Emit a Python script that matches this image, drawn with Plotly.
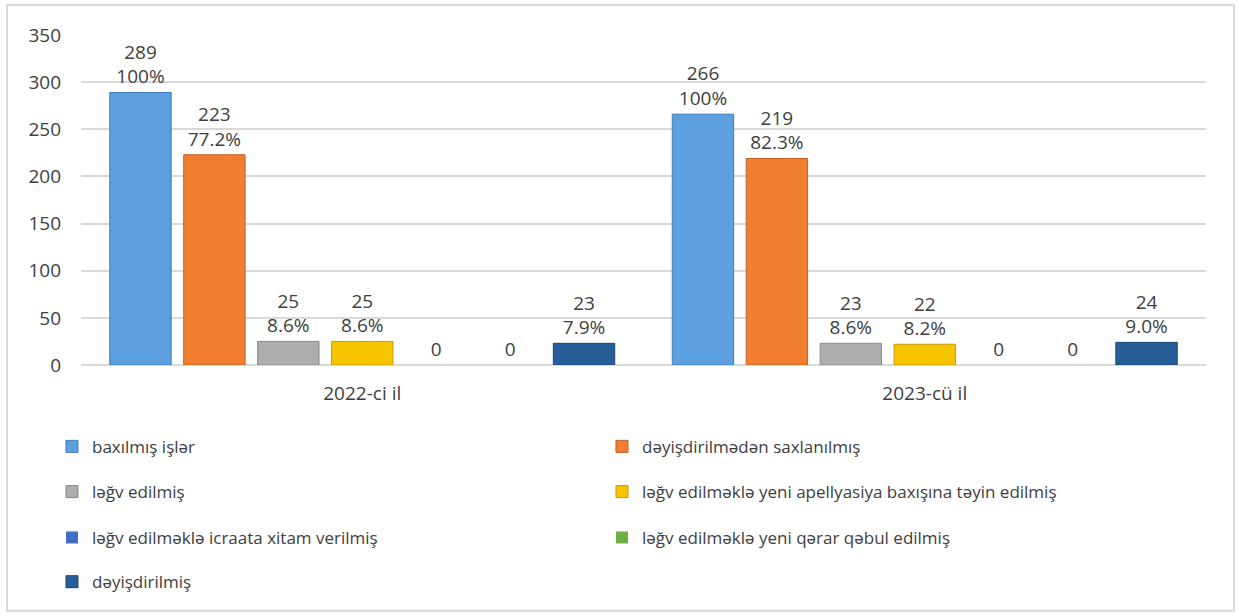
import plotly.graph_objects as go

categories = ["2022-ci il", "2023-cü il"]

series_names = [
    "baxılmış işlər",
    "dəyişdirilmədən saxlanılmış",
    "ləğv edilmiş",
    "ləğv edilməklə yeni apellyasiya baxışına təyin edilmiş",
    "ləğv edilməklə icraata xitam verilmiş",
    "ləğv edilməklə yeni qərar qəbul edilmiş",
    "dəyişdirilmiş",
]

baxilmis = [289, 266]
deyisdirilmeden = [223, 219]
legv = [25, 23]
legv_apellyasiya = [25, 22]
legv_xitam = [0, 0]
legv_yeni_qerar = [0, 0]
deyisdirilmis = [23, 24]

pct_baxilmis = ["100%", "100%"]
pct_deyisdirilmeden = ["77.2%", "82.3%"]
pct_legv = ["8.6%", "8.6%"]
pct_legv_apellyasiya = ["8.6%", "8.2%"]
pct_legv_xitam = ["", ""]
pct_legv_yeni_qerar = ["", ""]
pct_deyisdirilmis = ["7.9%", "9.0%"]

values = [baxilmis, deyisdirilmeden, legv, legv_apellyasiya, legv_xitam, legv_yeni_qerar, deyisdirilmis]
pcts = [pct_baxilmis, pct_deyisdirilmeden, pct_legv, pct_legv_apellyasiya, pct_legv_xitam, pct_legv_yeni_qerar, pct_deyisdirilmis]

colors = ["#5DA0E0", "#F07F31", "#ADADAD", "#F7C400", "#3F6FC0", "#6FAE45", "#275E97"]
edges = ["#3E7CB8", "#C0601E", "#8A8A8A", "#C99A00", "#2C5296", "#4E8A2E", "#1B4672"]
legend_ids = ["legend", "legend", "legend2", "legend2", "legend3", "legend3", "legend4"]

TXT = "#404040"
FONT = "Open Sans"

fig = go.Figure()
for name, vals, pc, col, ed, lg in zip(series_names, values, pcts, colors, edges, legend_ids):
    texts = [f"{v}<br>{p}" if p else f"{v}" for v, p in zip(vals, pc)]
    lw = [0 if v == 0 else 1 for v in vals]
    fig.add_trace(go.Bar(
        name=name, x=categories, y=vals, text=texts,
        textposition="outside", constraintext="none", cliponaxis=False,
        textfont=dict(family=FONT, size=19, color=TXT),
        marker=dict(color=col, line=dict(color=ed, width=lw)),
        legend=lg,
    ))

leg_common = dict(orientation="h", xanchor="left", yanchor="middle",
                  entrywidth=505, font=dict(family=FONT, size=17, color=TXT),
                  bgcolor="rgba(0,0,0,0)", traceorder="normal")
rows_y = [-0.248, -0.385, -0.524, -0.658]
leg_x = -0.0258

fig.update_layout(
    width=1239, height=616,
    margin=dict(l=81, r=33, t=35, b=251),
    paper_bgcolor="white", plot_bgcolor="white",
    barmode="group", bargap=0.08, bargroupgap=0.17,
    font=dict(family=FONT, size=19, color=TXT),
    xaxis=dict(showgrid=False, ticks="", showline=False, ticklabelstandoff=15,
               tickfont=dict(family=FONT, size=19, color=TXT)),
    yaxis=dict(range=[0, 350], dtick=50, showgrid=True, gridcolor="#D9D9D9", gridwidth=2,
               zeroline=True, zerolinecolor="#D9D9D9", zerolinewidth=2,
               ticks="", ticklabelstandoff=19,
               tickfont=dict(family=FONT, size=19, color=TXT)),
    legend=dict(x=leg_x, y=rows_y[0], **leg_common),
    legend2=dict(x=leg_x, y=rows_y[1], **leg_common),
    legend3=dict(x=leg_x, y=rows_y[2], **leg_common),
    legend4=dict(x=leg_x, y=rows_y[3], **leg_common),
    shapes=[dict(type="rect", xref="paper", yref="paper",
                 x0=-0.0658, x1=1.0249, y0=-0.745, y1=1.0909,
                 line=dict(color="#D9D9D9", width=2), fillcolor="rgba(0,0,0,0)", layer="below")],
)

fig.write_html("out.html", config={"displayModeBar": False},
               post_script="document.body.style.margin='0';")
